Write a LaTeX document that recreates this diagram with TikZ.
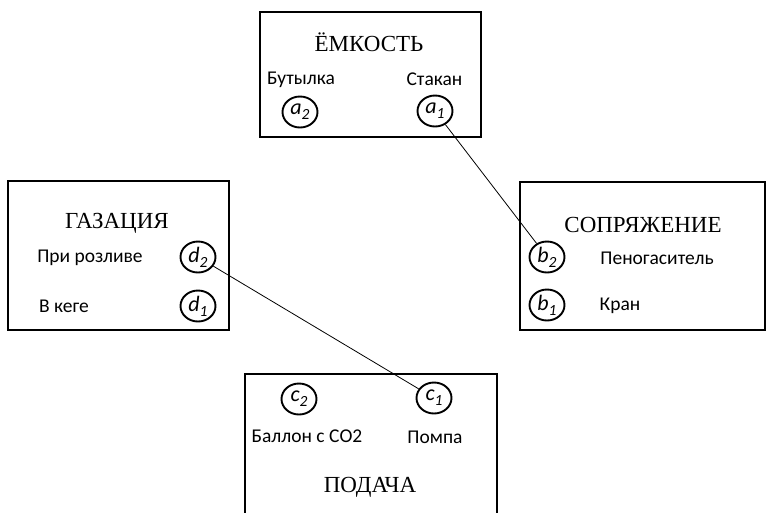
\documentclass[tikz,border=0pt]{standalone}
\usepackage{fontspec}
\setmainfont{Liberation Serif}
\newfontfamily\lbl{Carlito}
\usetikzlibrary{shapes.geometric}
\newcommand{\vsub}[1]{\raisebox{-5pt}{\fontsize{15.5}{15.5}\selectfont #1}}

\begin{document}
\begin{tikzpicture}[x=1pt, y=-1pt,
        block/.style = {draw, line width=2pt, inner sep=0pt},
        title/.style = {font=\fontsize{23}{26}\selectfont},
        item/.style = {font=\lbl\fontsize{19.5}{22}\selectfont},
        var/.style = {draw, ellipse, line width=1.9pt, inner sep=0pt,
            minimum width=35pt, minimum height=31pt,
            font=\lbl\itshape\fontsize{22}{22}\selectfont},
        link/.style = {line width=0.8pt}]
        \useasboundingbox (0,0) rectangle (767,512);
        % boxes
        \node [block, minimum width=221pt, minimum height=125pt] (emkost) at (370.5,74.5) {};
        \node [block, minimum width=221pt, minimum height=149pt] (gazac) at (118.5,255.5) {};
        \node [block, minimum width=245pt, minimum height=148pt] (sopr) at (642.5,256) {};
        \node [block, minimum width=252pt, minimum height=161pt] (podacha) at (371,454.5) {};
        % titles
        \node [title] (t-emkost) at (369,42) {ЁМКОСТЬ};
        \node [title] (t-gazac) at (117,223) {ГАЗАЦИЯ};
        \node [title] (t-sopr) at (643,225) {СОПРЯЖЕНИЕ};
        \node [title] (t-podacha) at (370,487) {ПОДАЧА};
        % items
        \node [item] (l-a2) at (301,80) {Бутылка};
        \node [item] (l-a1) at (434.5,79) {Стакан};
        \node [item] (l-d2) at (90,258) {При розливе};
        \node [item] (l-d1) at (64,306) {В кеге};
        \node [item] (l-b2) at (657,258) {Пеногаситель};
        \node [item] (l-b1) at (620,306) {Кран};
        \node [item] (l-c2) at (307,436) {Баллон с СО2};
        \node [item] (l-c1) at (435,437) {Помпа};
        % variables
        \node [var] (a2) at (300,112) {a\vsub{2}};
        \node [var] (a1) at (435,111) {a\vsub{1}};
        \node [var] (d2) at (198,257) {d\vsub{2}};
        \node [var] (d1) at (198,306) {d\vsub{1}};
        \node [var] (b2) at (547,257) {b\vsub{2}};
        \node [var] (b1) at (547,305) {b\vsub{1}};
        \node [var] (c2) at (299,399) {c\vsub{2}};
        \node [var] (c1) at (434,398) {c\vsub{1}};
        % links
        \draw [link] (a1) -- (b2);
        \draw [link] (d2) -- (c1);
\end{tikzpicture}
\end{document}
